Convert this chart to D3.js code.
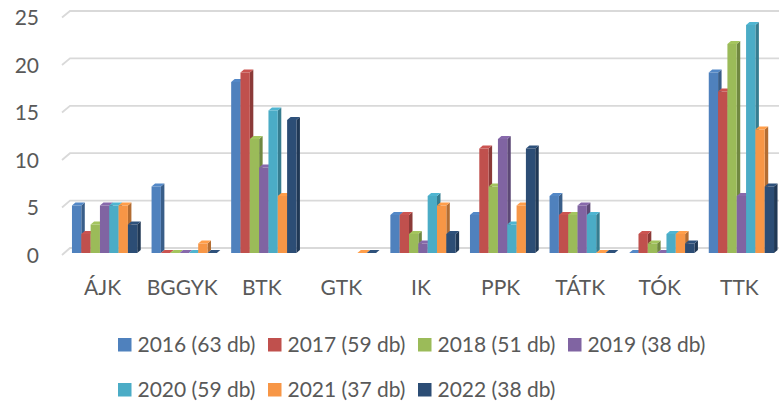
<!DOCTYPE html>
<html>
<head>
<meta charset="utf-8">
<script src="https://cdnjs.cloudflare.com/ajax/libs/d3/7.8.5/d3.min.js"></script>
<style>
  body { margin: 0; background: #fff; }
  text { font-family: Lato, "Open Sans", sans-serif; fill: #595959; }
</style>
</head>
<body>
<div id="chart"></div>
<script>
var categories = ['ÁJK', 'BGGYK', 'BTK', 'GTK', 'IK', 'PPK', 'TÁTK', 'TÓK', 'TTK'];
var seriesNames = ['2016 (63 db)', '2017 (59 db)', '2018 (51 db)', '2019 (38 db)',
                   '2020 (59 db)', '2021 (37 db)', '2022 (38 db)'];
var v2016 = [5, 7, 18, null, 4, 4, 6, 0, 19];
var v2017 = [2, 0, 19, null, 4, 11, 4, 2, 17];
var v2018 = [3, 0, 12, null, 2, 7, 4, 1, 22];
var v2019 = [5, 0, 9, null, 1, 12, 5, 0, 6];
var v2020 = [5, 0, 15, null, 6, 3, 4, 2, 24];
var v2021 = [5, 1, 6, 0, 5, 5, 0, 2, 13];
var v2022 = [3, 0, 14, 0, 2, 11, 0, 1, 7];
var yTicks = [0, 5, 10, 15, 20, 25];
var colors = ['#4F81BD', '#C0504D', '#9BBB59', '#8064A2', '#4BACC6', '#F79646', '#2C4D75'];

var allValues = [v2016, v2017, v2018, v2019, v2020, v2021, v2022];

var width = 779, height = 401;
var dx = 3.5, dy = -3;   // depth of the 3d bars
var fontSize = '21px';

var svg = d3.select('#chart')
  .append('svg')
  .attr('width', width)
  .attr('height', height);

svg.append('rect').attr('width', width).attr('height', height).attr('fill', '#fff');

// front plane (labels), back wall (gridlines), bars sit in between
var yFront = d3.scaleLinear().domain([0, 25]).range([255, 17.5]);
var yBack = d3.scaleLinear().domain([0, 25]).range([248, 11]);
var yBar = d3.scaleLinear().domain([0, 25]).range([253, 15.5]);

var x = d3.scaleBand()
  .domain(categories)
  .range([64.8, 64.8 + 9 * 79.6])
  .paddingInner(0.18)
  .paddingOuter(0.09);

var xs = d3.scaleBand()
  .domain(seriesNames)
  .range([0, x.bandwidth()]);

// gridlines
svg.selectAll('.grid')
  .data(yTicks)
  .enter()
  .append('path')
  .attr('class', 'grid')
  .attr('d', function (d) {
      return 'M62,' + yFront(d) + 'L70,' + yBack(d) + 'H' + width;
  })
  .attr('fill', 'none')
  .attr('stroke', '#d9d9d9')
  .attr('stroke-width', 1.8);

// y labels
svg.selectAll('.ylab')
  .data(yTicks)
  .enter()
  .append('text')
  .attr('class', 'ylab')
  .attr('x', 39)
  .attr('y', function (d) { return yFront(d) + 7.5; })
  .attr('text-anchor', 'end')
  .style('font-size', fontSize)
  .text(function (d) { return d; });

// bars
categories.forEach(function (cat, ci) {
    var g = svg.append('g');
    seriesNames.forEach(function (s, si) {
        var v = allValues[si][ci];
        if (v == null) return;
        var x0 = x(cat) + xs(s);
        var w = xs.bandwidth();
        var top = yBar(v), base = yBar(0);
        var c = d3.color(colors[si]);

        g.append('path')
          .attr('d', 'M' + (x0 + w) + ',' + top +
                     'L' + (x0 + w + dx) + ',' + (top + dy) +
                     'L' + (x0 + w + dx) + ',' + (base + dy) +
                     'L' + (x0 + w) + ',' + base + 'Z')
          .attr('fill', c.darker(0.9));

        g.append('path')
          .attr('d', 'M' + x0 + ',' + top +
                     'L' + (x0 + dx) + ',' + (top + dy) +
                     'L' + (x0 + w + dx) + ',' + (top + dy) +
                     'L' + (x0 + w) + ',' + top + 'Z')
          .attr('fill', c.brighter(0.15));

        g.append('rect')
          .attr('x', x0)
          .attr('y', top)
          .attr('width', w)
          .attr('height', base - top)
          .attr('fill', c);
    });
});

// category labels
svg.selectAll('.xlab')
  .data(categories)
  .enter()
  .append('text')
  .attr('class', 'xlab')
  .attr('x', function (d) { return x(d) + x.bandwidth() / 2 - 2; })
  .attr('y', 294.5)
  .attr('text-anchor', 'middle')
  .style('font-size', fontSize)
  .text(function (d) { return d; });

// legend
var legendPitch = 150;
var legend = svg.selectAll('.legend')
  .data(seriesNames)
  .enter()
  .append('g')
  .attr('class', 'legend')
  .attr('transform', function (d, i) {
      var row = i < 4 ? 0 : 1;
      var col = i < 4 ? i : i - 4;
      return 'translate(' + (118 + col * legendPitch) + ',' + (338 + row * 45) + ')';
  });

legend.append('rect')
  .attr('width', 13.5)
  .attr('height', 13.5)
  .attr('fill', function (d, i) { return colors[i]; });

legend.append('text')
  .attr('x', 19.5)
  .attr('y', 14)
  .style('font-size', fontSize)
  .text(function (d) { return d; });
</script>
</body>
</html>
